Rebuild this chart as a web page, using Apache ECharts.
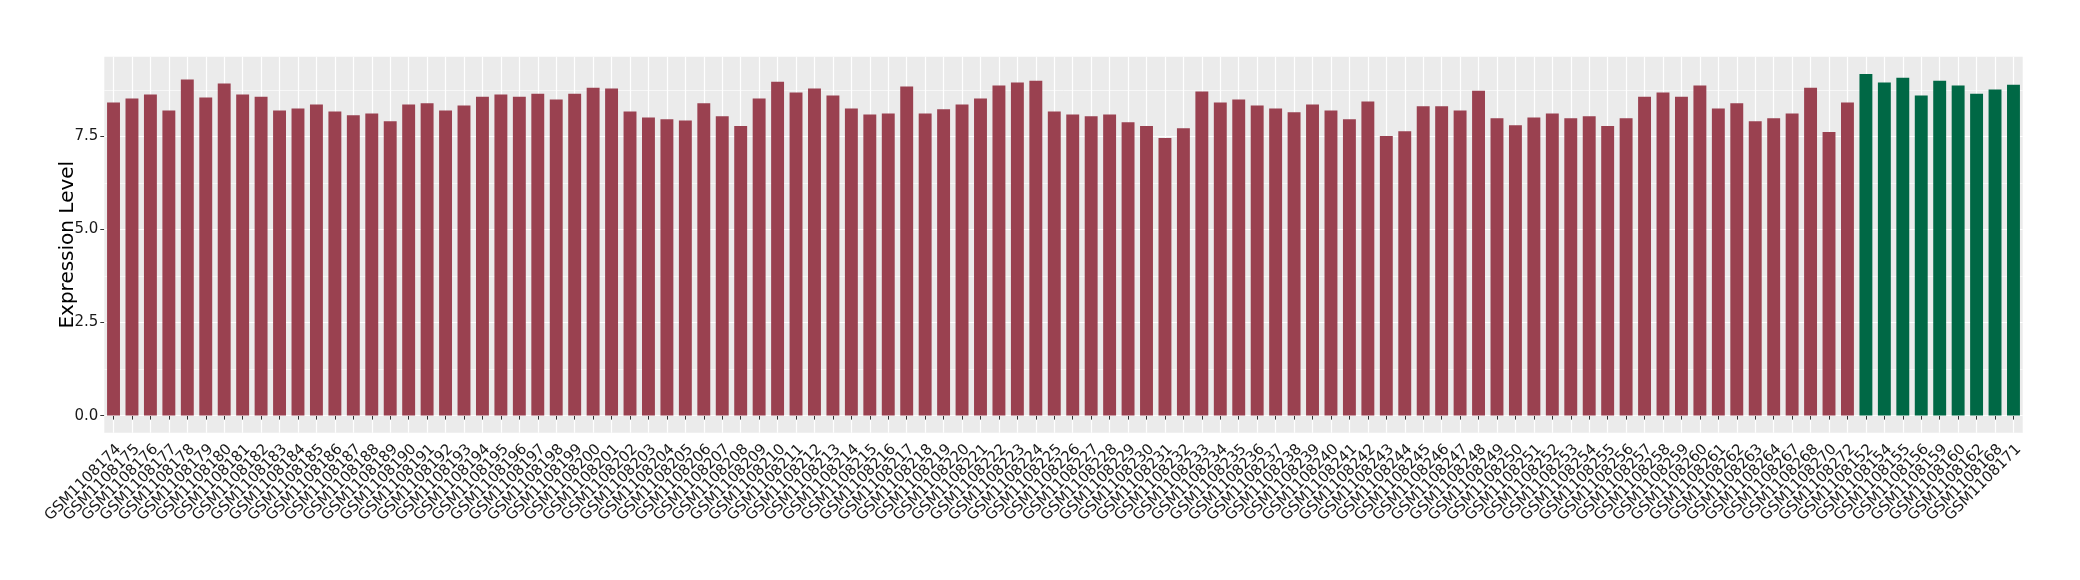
<!DOCTYPE html>
<html>
<head>
<meta charset="utf-8">
<script src="https://cdn.jsdelivr.net/npm/echarts@6/dist/echarts.min.js"></script>
<style>
html,body{margin:0;padding:0;background:#fff;}
#chart{width:2080px;height:580px;}
</style>
</head>
<body>
<div id="chart"></div>
<script>
const categories = [
  "GSM1108174","GSM1108175","GSM1108176","GSM1108177","GSM1108178","GSM1108179","GSM1108180","GSM1108181","GSM1108182","GSM1108183",
  "GSM1108184","GSM1108185","GSM1108186","GSM1108187","GSM1108188","GSM1108189","GSM1108190","GSM1108191","GSM1108192","GSM1108193",
  "GSM1108194","GSM1108195","GSM1108196","GSM1108197","GSM1108198","GSM1108199","GSM1108200","GSM1108201","GSM1108202","GSM1108203",
  "GSM1108204","GSM1108205","GSM1108206","GSM1108207","GSM1108208","GSM1108209","GSM1108210","GSM1108211","GSM1108212","GSM1108213",
  "GSM1108214","GSM1108215","GSM1108216","GSM1108217","GSM1108218","GSM1108219","GSM1108220","GSM1108221","GSM1108222","GSM1108223",
  "GSM1108224","GSM1108225","GSM1108226","GSM1108227","GSM1108228","GSM1108229","GSM1108230","GSM1108231","GSM1108232","GSM1108233",
  "GSM1108234","GSM1108235","GSM1108236","GSM1108237","GSM1108238","GSM1108239","GSM1108240","GSM1108241","GSM1108242","GSM1108243",
  "GSM1108244","GSM1108245","GSM1108246","GSM1108247","GSM1108248","GSM1108249","GSM1108250","GSM1108251","GSM1108252","GSM1108253",
  "GSM1108254","GSM1108255","GSM1108256","GSM1108257","GSM1108258","GSM1108259","GSM1108260","GSM1108261","GSM1108262","GSM1108263",
  "GSM1108264","GSM1108267","GSM1108268","GSM1108270","GSM1108272",
  "GSM1108152","GSM1108154","GSM1108155","GSM1108156","GSM1108159","GSM1108160","GSM1108162","GSM1108168","GSM1108171"
];
const values = [
  8.41, 8.52, 8.63, 8.20, 9.03, 8.55, 8.92, 8.63, 8.57, 8.20,
  8.25, 8.36, 8.17, 8.07, 8.12, 7.91, 8.36, 8.39, 8.20, 8.33,
  8.57, 8.63, 8.57, 8.65, 8.49, 8.65, 8.81, 8.79, 8.17, 8.01,
  7.96, 7.93, 8.39, 8.04, 7.78, 8.52, 8.97, 8.68, 8.79, 8.60,
  8.25, 8.09, 8.12, 8.84, 8.12, 8.23, 8.36, 8.52, 8.87, 8.95,
  9.00, 8.17, 8.09, 8.04, 8.09, 7.88, 7.78, 7.46, 7.72, 8.71,
  8.41, 8.49, 8.33, 8.25, 8.15, 8.36, 8.20, 7.96, 8.44, 7.51,
  7.64, 8.31, 8.31, 8.20, 8.73, 7.99, 7.80, 8.01, 8.12, 7.99,
  8.04, 7.78, 7.99, 8.57, 8.68, 8.57, 8.87, 8.25, 8.39, 7.91,
  7.99, 8.12, 8.81, 7.62, 8.41,
  9.18, 8.95, 9.08, 8.60, 9.00, 8.87, 8.65, 8.76, 8.89
];
const groups = [].concat(
  new Array(95).fill("A"),
  new Array(9).fill("B")
);
const yTicks = [0, 2.5, 5, 7.5];
const yMinor = [1.25, 3.75, 6.25, 8.75];

const groupColor = { A: "#9A4150", B: "#006845" };
const FONT = "DejaVu Sans, sans-serif";

const chart = echarts.init(document.getElementById('chart'), null, { renderer: 'canvas' });

const gridLines = [].concat(
  yTicks.map(v => ({ yAxis: v, lineStyle: { color: '#ffffff', width: 1.2, type: 'solid' } })),
  yMinor.map(v => ({ yAxis: v, lineStyle: { color: '#ffffff', width: 0.6, type: 'solid' } }))
);

const option = {
  animation: false,
  backgroundColor: '#ffffff',
  grid: {
    left: 104.3, top: 56.7, width: 1918.4, height: 376,
    show: true, backgroundColor: '#EBEBEB', borderWidth: 0,
    containLabel: false, outerBoundsMode: 'none'
  },
  xAxis: {
    type: 'category',
    data: categories,
    boundaryGap: true,
    axisLine: { show: false },
    axisTick: { show: true, alignWithLabel: true, interval: 0, length: 4, lineStyle: { color: '#333333', width: 1 } },
    splitLine: { show: true, alignWithLabel: true, interval: 0, lineStyle: { color: '#ffffff', width: 1.2 } },
    axisLabel: {
      interval: 0, rotate: 45, margin: 9,
      align: 'right', verticalAlign: 'top',
      fontFamily: FONT, fontSize: 15, color: '#1A1A1A'
    }
  },
  yAxis: {
    type: 'value',
    min: -0.459, max: 9.643,
    name: 'Expression Level',
    nameLocation: 'middle',
    nameRotate: 90,
    nameGap: 27,
    nameMoveOverlap: false,
    nameTextStyle: { fontFamily: FONT, fontSize: 20, color: '#000000' },
    axisLine: { show: false },
    axisTick: { show: true, customValues: yTicks, length: 4, lineStyle: { color: '#333333', width: 1 } },
    axisLabel: {
      customValues: yTicks, margin: 6,
      fontFamily: FONT, fontSize: 15, color: '#1A1A1A',
      formatter: v => Number(v).toFixed(1)
    },
    splitLine: { show: false },
    minorSplitLine: { show: false }
  },
  series: [{
    type: 'bar',
    barWidth: '70%',
    z: 3,
    emphasis: { disabled: true },
    data: values.map((v, i) => ({ value: v, itemStyle: { color: groupColor[groups[i]] } })),
    markLine: {
      silent: true,
      symbol: 'none',
      z: 1,
      animation: false,
      label: { show: false },
      emphasis: { disabled: true },
      data: gridLines
    }
  }]
};
chart.setOption(option);
</script>
</body>
</html>
